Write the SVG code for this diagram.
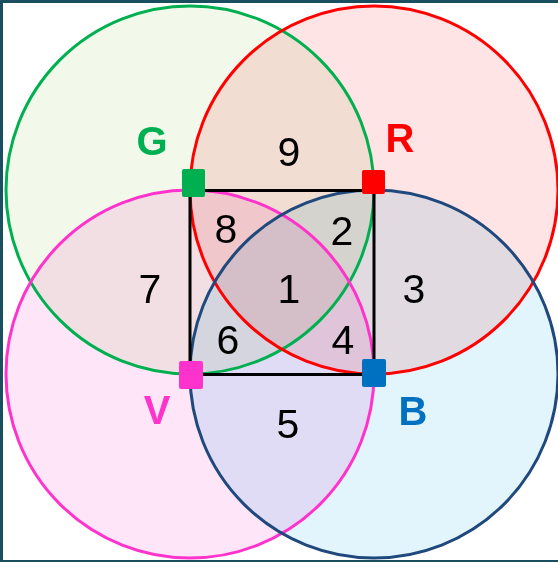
<svg xmlns="http://www.w3.org/2000/svg" width="558" height="562" viewBox="0 0 558 562">
  <style>
    .fill { mix-blend-mode: multiply; stroke: none; }
    .ring { fill: none; stroke-width: 3; }
    .num { font-family: "Liberation Sans", Arial, sans-serif; font-size: 41px; fill: #000; text-anchor: middle; }
    .lbl { font-family: "Liberation Sans", Arial, sans-serif; font-size: 40px; font-weight: bold; text-anchor: middle; }
  </style>
  <rect x="0" y="0" width="558" height="562" fill="#1a4f5f"/>
  <rect x="3" y="3" width="555" height="557" fill="#ffffff"/>

  <g id="fills" style="isolation:isolate">
    <circle class="fill" cx="190" cy="190" r="184" fill="#f2f8ea"/>
    <circle class="fill" cx="374" cy="190" r="184" fill="#fee4e4"/>
    <circle class="fill" cx="190" cy="374" r="184" fill="#fee6f8"/>
    <circle class="fill" cx="374" cy="374" r="184" fill="#e2f4fc"/>
  </g>

  <g id="set-G">
    <circle class="ring" cx="190" cy="190" r="184" stroke="#00b050"/>
  </g>
  <g id="set-R">
    <circle class="ring" cx="374" cy="190" r="184" stroke="#ff0000"/>
  </g>
  <g id="set-V">
    <circle class="ring" cx="190" cy="374" r="184" stroke="#ff33cc"/>
  </g>
  <g id="set-B">
    <circle class="ring" cx="374" cy="374" r="184" stroke="#1f497d"/>
  </g>

  <g id="connectors">
    <rect x="190" y="190.5" width="184" height="184" fill="none" stroke="#000" stroke-width="3"/>
  </g>

  <g id="marker-G"><rect x="182" y="169" width="23" height="28" rx="2" fill="#00b050"/></g>
  <g id="marker-R"><rect x="362" y="170" width="23" height="24" rx="2" fill="#ff0000"/></g>
  <g id="marker-V"><rect x="179" y="361" width="24" height="28" rx="2" fill="#ff33cc"/></g>
  <g id="marker-B"><rect x="362" y="359" width="24" height="28" rx="2" fill="#0070c0"/></g>

  <g id="labels">
    <text class="lbl" x="152" y="155" fill="#00b050">G</text>
    <text class="lbl" x="400" y="152" fill="#ff0000">R</text>
    <text class="lbl" x="157" y="424" fill="#ff33cc">V</text>
    <text class="lbl" x="413" y="425" fill="#0070c0">B</text>
  </g>

  <g id="regions">
    <text class="num" x="289" y="166">9</text>
    <text class="num" x="226" y="243">8</text>
    <text class="num" x="342" y="245">2</text>
    <text class="num" x="150" y="303">7</text>
    <text class="num" x="289" y="303">1</text>
    <text class="num" x="414" y="303">3</text>
    <text class="num" x="228" y="354">6</text>
    <text class="num" x="343" y="354">4</text>
    <text class="num" x="288" y="438">5</text>
  </g>
</svg>
